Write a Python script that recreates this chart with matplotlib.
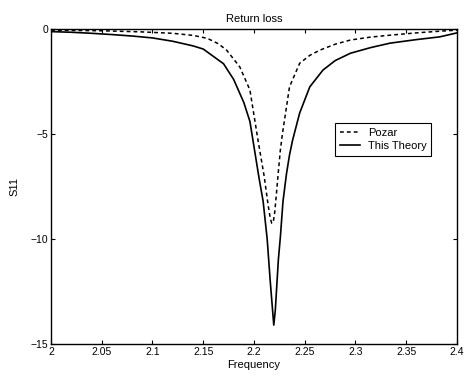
import matplotlib
matplotlib.use('Agg')
import matplotlib.pyplot as plt
import numpy as np

# frequency points and S11 values
freq_theory = [2.0, 2.02, 2.04, 2.06, 2.08, 2.1, 2.12, 2.14, 2.15, 2.16, 2.17,
               2.18, 2.19, 2.196, 2.2, 2.205, 2.209, 2.213, 2.216, 2.218, 2.2195,
               2.221, 2.2225, 2.224, 2.226, 2.2286, 2.232, 2.235, 2.238, 2.245,
               2.255, 2.268, 2.28, 2.295, 2.315, 2.334, 2.36, 2.383, 2.4]
s11_theory = [-0.12, -0.15, -0.2, -0.26, -0.33, -0.42, -0.58, -0.8, -0.95, -1.3, -1.65,
              -2.4, -3.5, -4.4, -5.6, -7.1, -8.2, -10.0, -12.0, -13.2, -14.1,
              -13.4, -12.2, -11.0, -9.9, -8.2, -6.9, -6.0, -5.3, -4.0,
              -2.75, -1.95, -1.5, -1.15, -0.88, -0.67, -0.5, -0.37, -0.18]

freq_pozar = [2.0, 2.05, 2.088, 2.12, 2.14, 2.154, 2.165, 2.173, 2.186, 2.196,
              2.204, 2.21, 2.214, 2.216, 2.2175, 2.219, 2.2205, 2.222, 2.224, 2.226, 2.228,
              2.235, 2.245, 2.255, 2.265, 2.28, 2.295, 2.315, 2.334, 2.36, 2.383, 2.4]
s11_pozar = [-0.05, -0.08, -0.13, -0.2, -0.3, -0.44, -0.7, -1.0, -1.8, -2.9,
             -5.3, -7.0, -8.4, -9.0, -9.25, -9.2, -8.7, -7.9, -6.8, -5.76, -5.0,
             -2.75, -1.63, -1.25, -1.0, -0.72, -0.52, -0.38, -0.29, -0.18, -0.1, -0.05]

xticks = [2, 2.05, 2.1, 2.15, 2.2, 2.25, 2.3, 2.35, 2.4]
xlabels = ['2', '2.05', '2.1', '2.15', '2.2', '2.25', '2.3', '2.35', '2.4']
yticks = [-15, -10, -5, 0]

plt.rcParams['font.family'] = ['Liberation Sans', 'DejaVu Sans']
plt.rcParams['font.size'] = 7.5

fig = plt.figure(figsize=(4.65, 3.78), dpi=100)
ax = fig.add_axes([0.1097, 0.09, 0.873, 0.833])

ax.plot(freq_pozar, s11_pozar, color='black', linestyle=(0, (2.5, 2)), linewidth=1.1, label='Pozar')
ax.plot(freq_theory, s11_theory, color='black', linestyle='-', linewidth=1.2, label='This Theory')

ax.set_xlim(2, 2.4)
ax.set_ylim(-15, 0)
ax.set_xticks(xticks)
ax.set_xticklabels(xlabels)
ax.set_yticks(yticks)
ax.tick_params(direction='in', top=True, right=True, length=3, width=0.8, pad=2)
for s in ax.spines.values():
    s.set_linewidth(1.0)

ax.set_title('Return loss', fontsize=8, pad=5)
ax.set_xlabel('Frequency', fontsize=8, labelpad=2)
ax.set_ylabel('S11', fontsize=8, labelpad=8)

leg = ax.legend(loc='upper left', bbox_to_anchor=(0.6995, 0.7016), borderaxespad=0,
                fancybox=False, edgecolor='black', handlelength=1.8, handletextpad=0.7,
                fontsize=8, borderpad=0.45, labelspacing=0.25, framealpha=1)
leg.get_frame().set_linewidth(0.8)

fig.savefig('out.png', dpi=100)
